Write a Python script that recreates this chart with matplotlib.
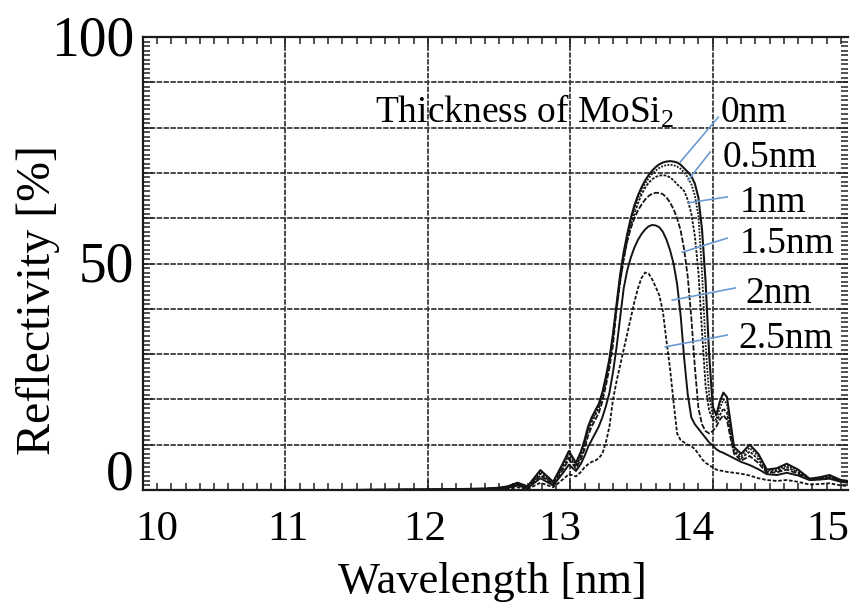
import numpy as np
import matplotlib
matplotlib.use("Agg")
import matplotlib.pyplot as plt
from matplotlib.ticker import MultipleLocator

plt.rcParams['font.family'] = ['Liberation Serif', 'DejaVu Serif']
plt.rcParams['mathtext.fontset'] = 'custom'
plt.rcParams['mathtext.rm'] = 'Liberation Serif'
plt.rcParams['mathtext.it'] = 'Liberation Serif:italic'

# wavelength samples [nm], shared by all curves
wavelength = [10.0, 11.0, 11.4, 12.0, 12.4, 12.5, 12.56, 12.63, 12.7, 12.79, 12.88, 12.95, 12.99, 13.04, 13.075,
              13.1, 13.125, 13.15, 13.175, 13.2, 13.225, 13.25, 13.275, 13.3, 13.325,
              13.35, 13.375, 13.4, 13.425, 13.45, 13.475, 13.5, 13.525, 13.55, 13.575,
              13.6, 13.625, 13.65, 13.675, 13.7, 13.725, 13.75, 13.775, 13.8, 13.825,
              13.85, 13.875, 13.9, 13.925, 13.95, 13.975, 14.0, 14.025, 14.05, 14.075,
              14.1, 14.125, 14.15,
              14.2, 14.26, 14.32, 14.38, 14.45, 14.52, 14.6, 14.68, 14.75, 14.82, 14.9, 14.95]

# reflectivity [%]
r_0nm = [0, 0, 0, 0.1, 0.3, 0.5, 0.8, 1.6, 0.8, 4.4, 1.8, 6.0, 8.6, 6.0, 8.5,
         11, 14, 16, 17.5, 19, 21.5, 25, 29, 34.5, 41,
         47.5, 52.5, 56.5, 60, 62.8, 65, 66.8, 68.3, 69.5, 70.5,
         71.3, 71.9, 72.3, 72.5, 72.6, 72.5, 72.3, 71.8, 71.0, 70.2,
         69.3, 67.6, 64.5, 57.5, 46, 30, 18.5, 16.5, 19.5, 21.5,
         20.5, 15, 9.5,
         8, 10, 8, 4.5, 4.8, 5.8, 4.5, 2.5, 2.8, 3.3, 2.2, 2.0]
r_05nm = [0, 0, 0, 0.1, 0.3, 0.5, 0.7, 1.5, 0.7, 4.0, 1.6, 5.6, 8.0, 5.6, 8.0,
          10.5, 13.5, 15.5, 17, 18.5, 21, 24.5, 28.5, 34, 40.5,
          47, 52, 56, 59.5, 62.2, 64.4, 66.1, 67.6, 68.8, 69.8,
          70.5, 71.1, 71.5, 71.7, 71.8, 71.7, 71.4, 70.9, 70.1, 69.0,
          67.5, 65.0, 60.5, 48, 32, 21, 16.5, 15.5, 18, 20,
          19, 13.5, 9,
          7.5, 9.3, 7.5, 4.3, 4.5, 5.4, 4.2, 2.4, 2.6, 3.1, 2.1, 1.9]
r_1nm = [0, 0, 0, 0.1, 0.3, 0.4, 0.6, 1.3, 0.6, 3.6, 1.4, 5.2, 7.4, 5.2, 7.5,
         10, 13, 15, 16.5, 18, 20.5, 24, 28, 33.5, 40,
         46, 51, 55, 58.3, 61, 63.3, 65.2, 66.7, 67.8, 68.6,
         69.1, 69.4, 69.5, 69.4, 69.0, 68.4, 67.5, 66.8, 66.0, 64.0,
         61, 56, 48, 35, 23, 17.5, 15.5, 15, 16.5, 18,
         17, 12.5, 8.5,
         7, 8.5, 6.8, 4, 4.2, 5, 3.9, 2.3, 2.5, 2.9, 2.0, 1.8]
r_15nm = [0, 0, 0, 0.1, 0.2, 0.4, 0.6, 1.2, 0.5, 3.2, 1.2, 4.6, 6.8, 4.8, 6.8,
          9, 12, 14, 15.5, 17, 19.5, 23, 27, 32, 40,
          46, 51, 55, 57.8, 60, 61.7, 63, 64.1, 64.9, 65.4,
          65.6, 65.6, 65.3, 64.6, 63.5, 62, 60, 57.3, 53, 47,
          38, 27, 18, 14.5, 13, 12.5, 13, 14, 15.5, 16.5,
          15.5, 11.5, 8,
          6.5, 7.5, 6, 3.8, 3.9, 4.5, 3.6, 2.2, 2.4, 2.7, 1.9, 1.7]
r_2nm = [0, 0, 0, 0.1, 0.2, 0.3, 0.5, 1.0, 0.4, 2.6, 1.0, 3.8, 5.6, 4.2, 5.8,
         7.5, 9.5, 11, 12.5, 14, 16, 18.5, 21.5, 26, 31.5,
         38, 44.5, 48.5, 51.3, 53.5, 55.2, 56.5, 57.5, 58.2, 58.5,
         58.4, 58, 57, 55.3, 53, 50, 45.5, 38.5, 29, 21,
         16, 14.5, 13.5, 12.5, 11.5, 10.5, 9.8, 9.0, 8.5, 8.2,
         7.8, 7.4, 7.0,
         6.2, 5.5, 4.6, 3.5, 3.3, 3.8, 3.2, 2.2, 2.3, 2.5, 1.8, 1.6]
r_25nm = [0, 0, 0, 0, 0.1, 0.2, 0.3, 0.6, 0.2, 1.6, 0.6, 2.4, 3.5, 3.0, 4.0,
          5, 5.7, 6.2, 6.5, 7, 8, 10.5, 14, 20, 24,
          27.5, 31, 34.5, 38, 41.5, 44.5, 46.8, 48, 47.8, 46.5,
          44.8, 43, 39.5, 33, 27, 19.5, 12.5, 11, 10.5, 10,
          9.7, 9, 8, 6.8, 6, 5.5, 5, 4.5, 4.3, 4.2,
          4, 3.9, 3.8,
          3.6, 3.2, 2.6, 2.2, 2.0, 2.2, 1.8, 1.2, 1.3, 1.5, 1.0, 0.9]

thickness_labels = ['0nm', '0.5nm', '1nm', '1.5nm', '2nm', '2.5nm']
curves = [r_0nm, r_05nm, r_1nm, r_15nm, r_2nm, r_25nm]
styles = ['-', (0, (1, 0.8)), (0, (1.5, 0.8)), (0, (3, 1)), '-', (0, (2, 1))]
widths = [1.5, 1.3, 1.3, 1.3, 1.4, 1.3]

# label text positions (baseline) and pointer ends, data coords
label_pos = [(14.053, 81.2), (14.067, 71.3), (14.193, 61.4), (14.193, 52.3), (14.228, 41.3), (14.179, 31.3)]
pointer_from = [(14.039, 82.3), (13.982, 74.6), (14.102, 64.7), (14.102, 55.6), (14.158, 44.6), (14.102, 34.2)]
pointer_to = [(13.772, 72.4), (13.828, 68.4), (13.828, 63.4), (13.786, 52.5), (13.716, 41.9), (13.667, 31.6)]

xtick_labels = ['10', '11', '12', '13', '14', '15']
xtick_px = [157, 288, 425, 560, 693, 828]
ytick_labels = ['100', '50', '0']
ytick_base_px = [55, 282, 490]

W, H = 852, 605
fig = plt.figure(figsize=(W / 100, H / 100), dpi=100)
ax = fig.add_axes([143 / W, 1 - 490 / H, (848 - 143) / W, (490 - 37) / H])

for r, ls, lw in zip(curves, styles, widths):
    ax.plot(wavelength, r, color='#141414', linestyle=ls, linewidth=lw)

ax.set_xlim(10, 14.95)
ax.set_ylim(0, 100)
ax.xaxis.set_major_locator(MultipleLocator(1))
ax.xaxis.set_minor_locator(MultipleLocator(0.1))
ax.yaxis.set_major_locator(MultipleLocator(10))
ax.yaxis.set_minor_locator(MultipleLocator(1))
ax.grid(True, which='major', color='#3a3a3a', linewidth=1.3, linestyle=(0, (3, 0.8)))
ax.tick_params(which='both', direction='in', top=True, right=True,
               labelbottom=False, labelleft=False, color='#222222', width=1.1)
ax.tick_params(which='major', length=7)
ax.tick_params(which='minor', length=5)
for s in ['left', 'bottom', 'top']:
    ax.spines[s].set_linewidth(1.6)
    ax.spines[s].set_color('#1a1a1a')
ax.spines['right'].set_visible(False)

# annotation
ax.text(11.632, 81.2, r'Thickness of MoSi$_2$', fontsize=27, va='baseline', ha='left')
for lab, pos, p0, p1 in zip(thickness_labels, label_pos, pointer_from, pointer_to):
    ax.text(pos[0], pos[1], lab, fontsize=27, va='baseline', ha='left')
    ax.plot([p0[0], p1[0]], [p0[1], p1[1]], color='#6b9bd2', linewidth=1.2)

# tick labels (scan has them slightly off the grid)
for lab, px in zip(xtick_labels, xtick_px):
    fig.text(px / W, 1 - 540 / H, lab, fontsize=31, ha='center', va='baseline')
for lab, py in zip(ytick_labels, ytick_base_px):
    fig.text(134 / W, 1 - py / H, lab, fontsize=40, ha='right', va='baseline')

fig.text(492 / W, 1 - 593 / H, 'Wavelength [nm]', fontsize=32, ha='center', va='baseline')
fig.text(50 / W, 1 - 300 / H, 'Reflectivity [%]', fontsize=34.5, rotation=90,
         rotation_mode='anchor', ha='center', va='baseline')

fig.savefig('out.png', dpi=100)
